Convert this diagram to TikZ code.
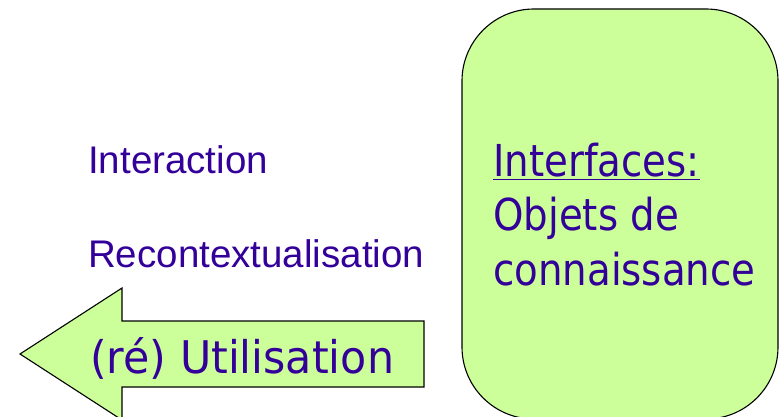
\documentclass[tikz,border=0pt]{standalone}
\usepackage{fontspec}
\setmainfont{Liberation Sans}
\newfontfamily\boxfont[FakeStretch=0.88]{DejaVu Sans}
\newfontfamily\arrowfont[FakeStretch=0.95]{DejaVu Sans}
\usetikzlibrary{calc}

\definecolor{inkblue}{HTML}{330099}
\definecolor{palegreen}{HTML}{CCFF99}

\tikzset{
  plainlbl/.style={inkblue, inner sep=0pt, anchor=base west, font=\fontsize{38.5}{46}\selectfont},
  bigl/.style={inkblue, inner sep=0pt, anchor=base west, font=\boxfont\fontsize{44}{54}\selectfont},
  arrowlbl/.style={inkblue, inner sep=0pt, anchor=base west, font=\arrowfont\fontsize{45}{54}\selectfont},
}

\begin{document}
\begin{tikzpicture}[x=1pt, y=-1pt]
			%%%%% START %%%%%
			\useasboundingbox (0, 0) rectangle (780, 417);
			
			% rounded box on the right
			\draw[fill=palegreen, line width=1.1pt, rounded corners=72pt] (462, 9) rectangle (778, 419);
			\node[bigl] (ifc) at (493, 177) {\underline{Interfaces:}};
			\node[bigl] (obj) at (493, 231) {Objets de};
			\node[bigl] (con) at (493, 285) {connaissance};
			
			% arrow pointing left
			\draw[fill=palegreen, line width=1.1pt] (20, 354) -- (122, 288) -- (122, 321) -- (424, 321)
			    -- (424, 387) -- (122, 387) -- (122, 420) -- cycle;
			\node[arrowlbl] (use) at (90, 373) {(ré) Utilisation};
			
			% plain labels
			\node[plainlbl] (inter) at (88, 174) {Interaction};
			\node[plainlbl] (recon) at (88, 267) {Recontextualisation};
			%%%%% END %%%%%
\end{tikzpicture}
\end{document}
